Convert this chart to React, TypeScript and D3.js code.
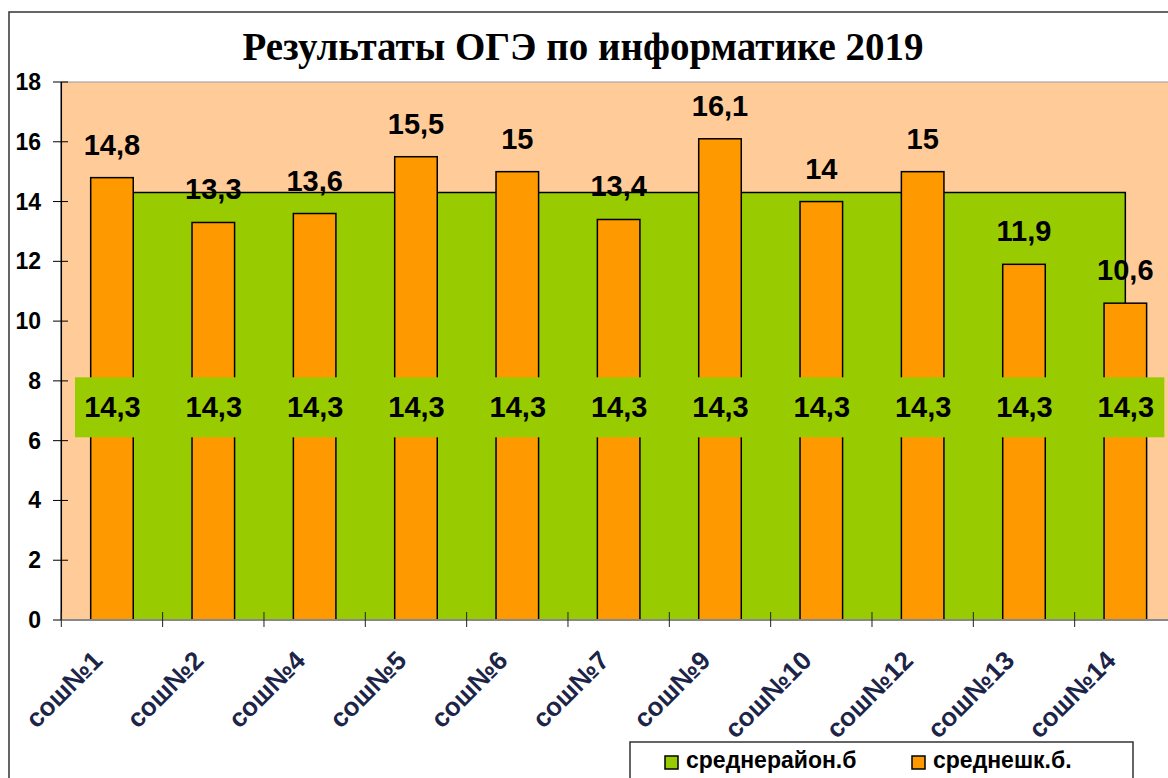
import React from 'react';
import * as d3 from 'd3';

const schools = ['сош№1', 'сош№2', 'сош№4', 'сош№5', 'сош№6', 'сош№7', 'сош№9', 'сош№10', 'сош№12', 'сош№13', 'сош№14'];
const districtAvg = [14.3, 14.3, 14.3, 14.3, 14.3, 14.3, 14.3, 14.3, 14.3, 14.3, 14.3];
const schoolAvg = [14.8, 13.3, 13.6, 15.5, 15, 13.4, 16.1, 14, 15, 11.9, 10.6];
const yTicks = [0, 2, 4, 6, 8, 10, 12, 14, 16, 18];
const seriesNames = ['среднерайон.б', 'среднешк.б.'];

const W = 1168;
const H = 778;
const GREEN = '#99cc00';
const ORANGE = '#ff9900';
const PEACH = '#ffcc99';
const sans = '"Liberation Sans", Arial, sans-serif';
const fmt = (v: number) => String(v).replace('.', ',');

export default function App() {
  const left = 61.3;
  const right = 1176;
  const top = 82;
  const bottom = 620;

  const x = d3.scaleBand<string>().domain(schools).range([left, right]).paddingInner(0).paddingOuter(0);
  const y = d3.scaleLinear().domain([0, 18]).range([bottom, top]);
  const cx = (s: string) => (x(s) as number) + x.bandwidth() / 2;
  const barW = x.bandwidth() * 0.42;

  const area = d3.area<number>()
    .x((_, i) => cx(schools[i]))
    .y0(y(0))
    .y1(d => y(d));
  const topLine = d3.line<number>()
    .x((_, i) => cx(schools[i]))
    .y(d => y(d));
  const lastX = cx(schools[schools.length - 1]);

  return (
    <svg width={W} height={H} style={{ position: 'absolute', left: 0, top: 0, background: '#fff' }}>
      {/* chart frame */}
      <rect x={9} y={12} width={W + 20} height={H} fill="#fff" stroke="#333" strokeWidth={1.5} />
      <text x={583} y={60} textAnchor="middle" fontFamily='"Liberation Serif", "Times New Roman", serif'
        fontWeight="bold" fontSize={39} fill="#000">Результаты ОГЭ по информатике 2019</text>

      {/* plot area */}
      <rect x={left} y={top} width={right - left} height={bottom - top} fill={PEACH} stroke="#999" strokeWidth={1} />

      {/* district average as area */}
      <path d={area(districtAvg) || ''} fill={GREEN} stroke="none" />
      <path d={(topLine(districtAvg) || '') + `L${lastX},${y(0)}`} fill="none" stroke="#000" strokeWidth={1.5} />

      {/* school bars */}
      {schoolAvg.map((v, i) => (
        <rect key={i} x={cx(schools[i]) - barW / 2} y={y(v)} width={barW} height={y(0) - y(v)}
          fill={ORANGE} stroke="#000" strokeWidth={1.5} />
      ))}

      {/* area labels */}
      {districtAvg.map((v, i) => (
        <rect key={i} x={cx(schools[i]) - 37} y={y(v / 2) - 29} width={76} height={60} fill={GREEN} />
      ))}
      {districtAvg.map((v, i) => (
        <text key={i} x={cx(schools[i]) + 0.5} y={y(v / 2) + 11} textAnchor="middle" fontFamily={sans}
          fontWeight="bold" fontSize={29} fill="#000">{fmt(v)}</text>
      ))}

      {/* bar labels */}
      {schoolAvg.map((v, i) => (
        <text key={i} x={cx(schools[i])} y={y(v) - 23} textAnchor="middle" fontFamily={sans}
          fontWeight="bold" fontSize={29} fill="#000">{fmt(v)}</text>
      ))}

      {/* y axis */}
      <line x1={left} x2={left} y1={top} y2={bottom} stroke="#000" strokeWidth={1.5} />
      {yTicks.map(t => (
        <g key={t}>
          <line x1={53} x2={68} y1={y(t)} y2={y(t)} stroke="#000" strokeWidth={1} />
          <text x={41} y={y(t) + 8} textAnchor="end" fontFamily={sans} fontWeight="bold" fontSize={23} fill="#000">{t}</text>
        </g>
      ))}

      {/* x axis */}
      <line x1={left} x2={right} y1={bottom} y2={bottom} stroke="#888" strokeWidth={2} />
      {schools.map((s, i) => (
        <line key={i} x1={x(s) as number} x2={x(s) as number} y1={bottom - 8} y2={bottom + 7} stroke="#222" strokeWidth={1} />
      ))}
      {schools.map((s, i) => (
        <text key={i} transform={`translate(${cx(s) - 8},${662}) rotate(-45)`} textAnchor="end"
          fontFamily={sans} fontWeight="bold" fontSize={26} fill="#1c2448">{s}</text>
      ))}

      {/* legend */}
      <rect x={630} y={742} width={503} height={50} fill="#fff" stroke="#333" strokeWidth={1.5} />
      <rect x={665} y={756} width={13} height={13} fill={GREEN} stroke="#000" strokeWidth={1.5} />
      <text x={686} y={768} fontFamily={sans} fontWeight="bold" fontSize={23} fill="#000">{seriesNames[0]}</text>
      <rect x={912} y={756} width={13} height={13} fill={ORANGE} stroke="#000" strokeWidth={1.5} />
      <text x={933} y={768} fontFamily={sans} fontWeight="bold" fontSize={23} fill="#000">{seriesNames[1]}</text>
    </svg>
  );
}
